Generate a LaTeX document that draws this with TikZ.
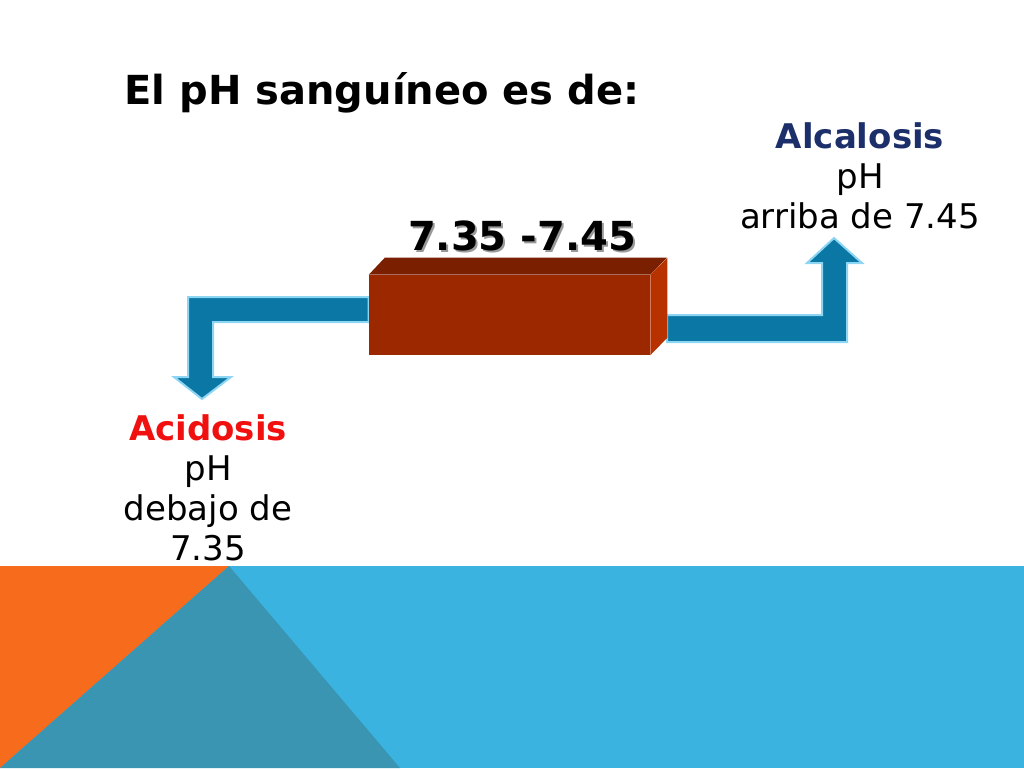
\documentclass[tikz,border=0pt]{standalone}
\usepackage{fontspec}
\setmainfont{DejaVu Sans}
\usetikzlibrary{positioning,calc}
\definecolor{boxfront}{HTML}{9C2800}
\definecolor{boxtop}{HTML}{7A2000}
\definecolor{boxside}{HTML}{B83200}
\definecolor{arrowfill}{HTML}{0B77A4}
\definecolor{arrowrim}{HTML}{8DD6F3}
\definecolor{bandblue}{HTML}{3BB3E0}
\definecolor{bandorange}{HTML}{F76B1C}
\definecolor{bandteal}{HTML}{3A95B3}
\definecolor{alcalcolor}{HTML}{1C2F6B}
\definecolor{acidcolor}{HTML}{F01010}
\begin{document}
\begin{tikzpicture}[x=0.75pt,y=-0.75pt,
	phtext/.style={anchor=base,align=center,inner sep=0pt,font=\fontsize{25.5}{30}\selectfont},
	bigbold/.style={anchor=base,inner sep=0pt,font=\fontsize{30}{36}\selectfont\bfseries},
	fatarrow/.style={fill=arrowfill,draw=arrowrim,line width=1.5pt,line join=miter}]
	\useasboundingbox (0,0) rectangle (1024,768);
	% bottom band
	\fill[bandblue] (0,566) rectangle (1024,768);
	\fill[bandorange] (0,566) -- (229,566) -- (0,768) -- cycle;
	\fill[bandteal] (229,566) -- (400,768) -- (0,768) -- cycle;
	% title and range
	\node[bigbold] (title) at (382,104) {El pH sanguíneo es de:};
	\node[bigbold,text=black!40] (rangeshadow) at (524,252) {7.35 -7.45};
	\node[bigbold] (range) at (522,250) {7.35 -7.45};
	% box
	\node[fill=boxfront,minimum width=210.75pt,minimum height=60pt,inner sep=0pt] (box) at (509.5,315) {};
	% arrows
	\draw[fatarrow] (box.west |- 0,297) -- (188,297) -- (188,377) -- (174,377) -- (202,399)
		-- (231,377) -- (213,377) -- (213,322) -- (box.west |- 0,322) -- cycle;
	\draw[fatarrow] (667,315) -- (822,315) -- (822,263) -- (807,263) -- (834,238)
		-- (862,263) -- (847,263) -- (847,342) -- (667,342) -- cycle;
	\fill[boxfront] (box.north west) rectangle (box.south east);
	\fill[boxtop] (box.north west) -- ++(16,-17) -- ++(282,0) -- (box.north east) -- cycle;
	\fill[boxside] (box.north east) -- ++(17,-17) -- ++(0,80) -- (box.south east) -- cycle;
	% labels
	\node[phtext] (alcal) at (860,228) {\textcolor{alcalcolor}{\bfseries Alcalosis}\\pH\\arriba de 7.45};
	\node[phtext] (acid) at (208,560) {\textcolor{acidcolor}{\bfseries Acidosis}\\pH\\debajo de\\7.35};
\end{tikzpicture}
\end{document}
